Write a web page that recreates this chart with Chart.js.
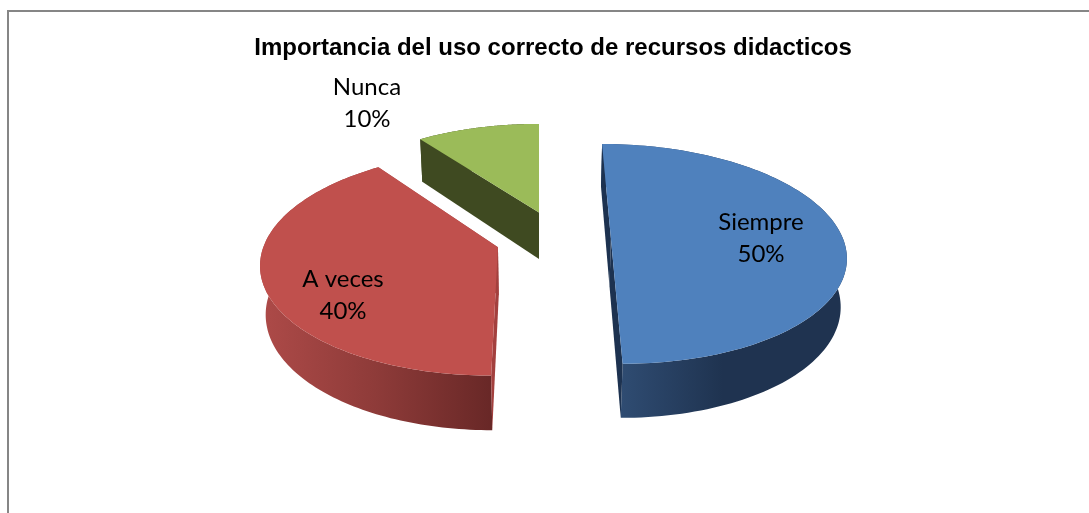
<!DOCTYPE html>
<html>
<head>
<meta charset="utf-8">
<style>html,body{margin:0;padding:0;background:#fff;overflow:hidden}canvas{display:block}</style>
<script src="https://cdn.jsdelivr.net/npm/chart.js@4"></script>
</head>
<body>
<canvas id="c" width="1089" height="513"></canvas>
<script>
const categories = ['Siempre', 'A veces', 'Nunca'];
const values = [50, 40, 10];
const chartTitle = 'Importancia del uso correcto de recursos didacticos';
const topColors = ['#4f81bd', '#c0504d', '#9bbb59'];

// Styling of the 3D look
const explode = [[0.31, 0], [-0.175, -0.08], [0, 0.25]];
const wallStops = [
  {x0: 621, x1: 847, stops: [[0, '#2f4c72'], [0.45, '#1f3350'], [1, '#1f3350']]},
  {x0: 262, x1: 490, stops: [[0, '#ad4a48'], [0.5, '#8e3b39'], [1, '#692827']]},
  {x0: 423, x1: 540, stops: [[0, '#3f4a21'], [1, '#3f4a21']]}
];
const faceColors = ['#1d3250', '#a3403e', '#3f4a21'];
const labelCentres = [[761, 238], [343, 295], [367, 103]];
const cam = {cx: 539, s: 232, vy: -531, K: 769.5, a: 0.14, bx: 0.02, by: 0.01, H: 56};

function project(X, Y, h) {
  const w = 1 + cam.a * Y;
  return [cam.cx + cam.s * X / (w + cam.bx * h), cam.vy + (cam.K + cam.H * h) / (w + cam.by * h)];
}

const pie3d = {
  id: 'pie3d',
  beforeDraw(chart) {
    const c = chart.ctx;
    c.save();
    c.fillStyle = '#fff';
    c.fillRect(0, 0, chart.width, chart.height);
    c.strokeStyle = '#868686';
    c.lineWidth = 2;
    c.strokeRect(8, 11, chart.width + 20, chart.height + 20);
    c.restore();
  },
  beforeDatasetsDraw(chart) {
    const c = chart.ctx;
    const arcs = chart.getDatasetMeta(0).data;
    const order = arcs.map((_, i) => i).sort((p, q) => explode[q][1] - explode[p][1]);
    for (const i of order) {
      const arc = arcs[i];
      const [ex, ey] = explode[i];
      const pt = (ang, r, h) => project(ex + r * Math.cos(ang), ey - r * Math.sin(ang), h);
      const n = 120;
      const rim = [];
      for (let k = 0; k <= n; k++) rim.push(arc.startAngle + (arc.endAngle - arc.startAngle) * k / n);

      const poly = (pts, fill) => {
        c.beginPath();
        pts.forEach((p, idx) => idx ? c.lineTo(p[0], p[1]) : c.moveTo(p[0], p[1]));
        c.closePath();
        c.fillStyle = fill;
        c.fill();
      };
      const g = c.createLinearGradient(wallStops[i].x0, 0, wallStops[i].x1, 0);
      wallStops[i].stops.forEach(s => g.addColorStop(s[0], s[1]));
      poly(rim.map(a => pt(a, 1, 0)).concat(rim.slice().reverse().map(a => pt(a, 1, 1))), g);
      const cut = a => poly([pt(a, 0, 0), pt(a, 1, 0), pt(a, 1, 1), pt(a, 0, 1)], faceColors[i]);
      cut(arc.endAngle);
      cut(arc.startAngle);
      poly([pt(0, 0, 0)].concat(rim.map(a => pt(a, 1, 0))), topColors[i]);
    }
    return false;
  },
  afterDraw(chart) {
    const c = chart.ctx;
    c.save();
    c.fillStyle = '#000';
    c.font = '24px Lato';
    c.textAlign = 'center';
    c.textBaseline = 'middle';
    const total = values.reduce((a, b) => a + b, 0);
    categories.forEach((name, i) => {
      const [x, y] = labelCentres[i];
      c.fillText(name, x, y - 16);
      c.fillText(Math.round(values[i] / total * 100) + '%', x, y + 16);
    });
    c.restore();
  }
};

new Chart(document.getElementById('c'), {
  type: 'pie',
  data: {
    labels: categories,
    datasets: [{data: values, backgroundColor: topColors, borderWidth: 0}]
  },
  options: {
    responsive: false,
    animation: false,
    layout: {padding: {left: 17, top: 26}},
    plugins: {
      legend: {display: false},
      tooltip: {enabled: false},
      title: {
        display: true,
        text: chartTitle,
        color: '#000',
        font: {family: '"Liberation Sans"', size: 24, weight: 'bold'},
        padding: {top: 8, bottom: 8}
      }
    }
  },
  plugins: [pie3d]
});
</script>
</body>
</html>
